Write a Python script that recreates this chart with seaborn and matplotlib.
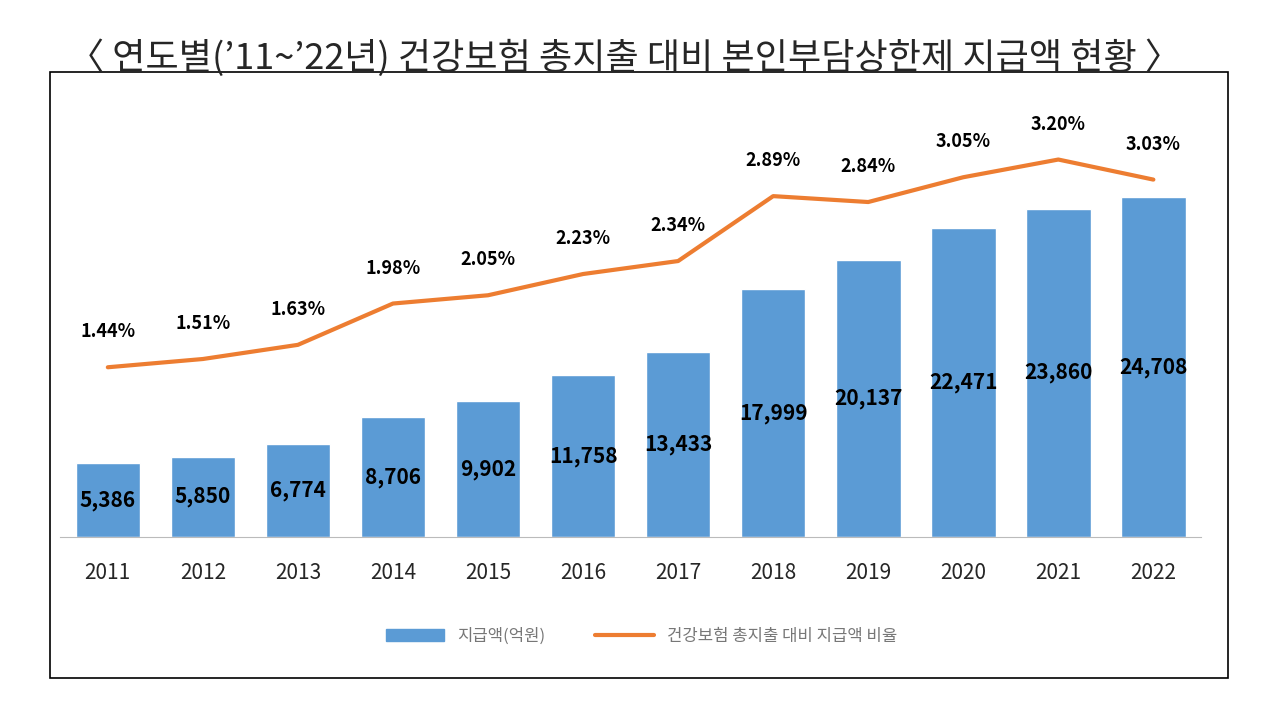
import matplotlib.pyplot as plt
import seaborn as sns
import pandas as pd
from matplotlib.patches import Rectangle
from matplotlib.lines import Line2D

years = ['2011', '2012', '2013', '2014', '2015', '2016', '2017', '2018', '2019', '2020', '2021', '2022']
amount = [5386, 5850, 6774, 8706, 9902, 11758, 13433, 17999, 20137, 22471, 23860, 24708]
ratio = [1.44, 1.51, 1.63, 1.98, 2.05, 2.23, 2.34, 2.89, 2.84, 3.05, 3.20, 3.03]

sns.set_style('white')
plt.rcParams['font.family'] = ['Noto Sans CJK KR', 'DejaVu Sans']

df = pd.DataFrame({'year': years, 'amount': amount, 'ratio': ratio})

fig = plt.figure(figsize=(12.83, 7.25), dpi=100)
fig.patches.append(Rectangle((50 / 1283, 1 - 678 / 725), 1178 / 1283, 606 / 725,
                             transform=fig.transFigure, fill=False, edgecolor='black', lw=1.2))
fig.text(0.487, 0.92, '〈 연도별(’11~’22년) 건강보험 총지출 대비 본인부담상한제 지급액 현황 〉',
         ha='center', va='center', fontsize=26)

ax = fig.add_axes([0.047, 0.259, 0.889, 0.617])
sns.barplot(data=df, x='year', y='amount', color='#5b9bd5', saturation=1, width=0.68, ax=ax)
ax.set_ylim(0, 32483)
ax.set_xlim(-0.5, 11.5)
for i, v in enumerate(amount):
    ax.text(i, v / 2, f'{v:,}', ha='center', va='center', fontsize=15, fontweight='bold', color='black')

ax2 = ax.twinx()
sns.lineplot(x=list(range(12)), y=ratio, color='#ed7d31', lw=3, ax=ax2)
ax2.set_ylim(0, 3.79)
for i, r in enumerate(ratio):
    ax2.text(i, r + 0.3, f'{r:.2f}%', ha='center', va='center', fontsize=13, fontweight='bold', color='black')

for a in (ax, ax2):
    for s in a.spines.values():
        s.set_visible(False)
    a.set_yticks([])
    a.set_ylabel('')
ax.spines['bottom'].set_visible(True)
ax.spines['bottom'].set_color('#bbbbbb')
ax.set_xlabel('')
ax.tick_params(axis='x', length=0, pad=18, labelsize=15)

handles = [Rectangle((0, 0), 1, 1, color='#5b9bd5'), Line2D([], [], color='#ed7d31', lw=3)]
fig.legend(handles, ['지급액(억원)', '건강보험 총지출 대비 지급액 비율'], loc='center',
           bbox_to_anchor=(0.5, 0.122), ncol=2, frameon=False, fontsize=12,
           labelcolor='#777777', columnspacing=3, handlelength=3.5)

fig.savefig('out.png', dpi=100)
